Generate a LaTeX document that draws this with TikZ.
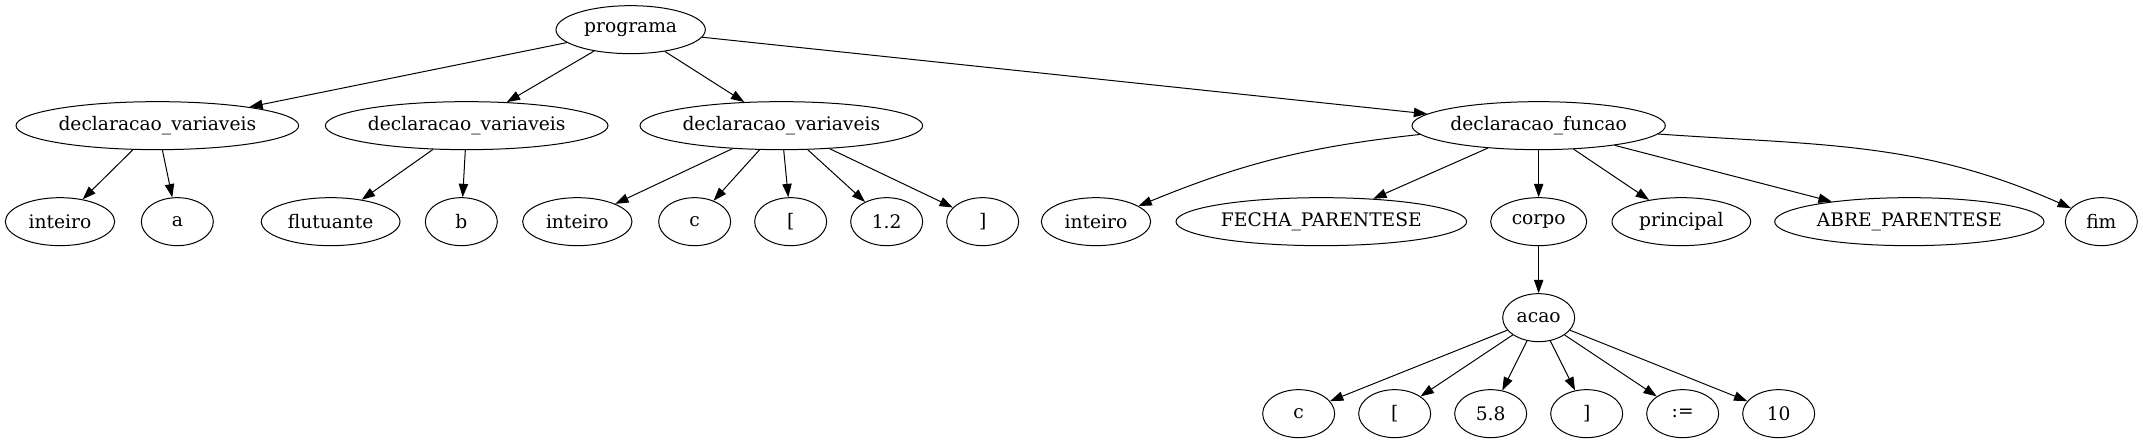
\documentclass[tikz,border=0pt]{standalone}
\usepackage{fontspec}
\setmainfont{DejaVu Serif}
\usetikzlibrary{arrows.meta,shapes.geometric}
\begin{document}
\begin{tikzpicture}[x=1pt,y=1pt,
  nd/.style={draw,ellipse,line width=0.75pt,inner sep=0pt,minimum height=36pt,font=\fontsize{14}{16}\selectfont},
  w/.style={minimum width=#1pt},
  ed/.style={line width=0.75pt,-{Triangle[length=10pt,width=7pt]}}]
\useasboundingbox (0,0) rectangle (1607.25,332.25);
% level 0
\node[nd,w=112] (prog) at (473,310) {programa};
% level 1
\node[nd,w=212] (dv1) at (118,238) {declaracao\_variaveis};
\node[nd,w=212] (dv2) at (350,238) {declaracao\_variaveis};
\node[nd,w=212] (dv3) at (586,238) {declaracao\_variaveis};
\node[nd,w=190] (df) at (1154,238) {declaracao\_funcao};
% level 2
\node[nd,w=82] (i1) at (45,166) {inteiro};
\node[nd,w=54] (a) at (133,166) {a};
\node[nd,w=104] (flu) at (248,166) {flutuante};
\node[nd,w=54] (b) at (346,166) {b};
\node[nd,w=82] (i2) at (433,166) {inteiro};
\node[nd,w=54] (c1) at (521,166) {c};
\node[nd,w=54] (lb1) at (593,166) {[};
\node[nd,w=54] (n12) at (665,166) {1.2};
\node[nd,w=54] (rb1) at (737,166) {]};
\node[nd,w=82] (i3) at (822,166) {inteiro};
\node[nd,w=218] (fp) at (991,166) {FECHA\_PARENTESE};
\node[nd,w=72] (corpo) at (1154,166) {corpo};
\node[nd,w=104] (princ) at (1261,166) {principal};
\node[nd,w=202] (ap) at (1432,166) {ABRE\_PARENTESE};
\node[nd,w=54] (fim) at (1576,166) {fim};
% level 3
\node[nd,w=54] (acao) at (1154,94) {acao};
% level 4
\node[nd,w=54] (c2) at (974,22) {c};
\node[nd,w=54] (lb2) at (1046,22) {[};
\node[nd,w=54] (n58) at (1118,22) {5.8};
\node[nd,w=54] (rb2) at (1190,22) {]};
\node[nd,w=54] (asg) at (1262,22) {:=};
\node[nd,w=54] (n10) at (1334,22) {10};
% edges
\draw[ed] (prog) -- (dv1);
\draw[ed] (prog) -- (dv2);
\draw[ed] (prog) -- (dv3);
\draw[ed] (prog) -- (df);
\draw[ed] (dv1) -- (i1);
\draw[ed] (dv1) -- (a);
\draw[ed] (dv2) -- (flu);
\draw[ed] (dv2) -- (b);
\draw[ed] (dv3) -- (i2);
\draw[ed] (dv3) -- (c1);
\draw[ed] (dv3) -- (lb1);
\draw[ed] (dv3) -- (n12);
\draw[ed] (dv3) -- (rb1);
\draw[ed] (df) to[bend right=8] (i3);
\draw[ed] (df) -- (fp);
\draw[ed] (df) -- (corpo);
\draw[ed] (df) -- (princ);
\draw[ed] (df) -- (ap);
\draw[ed] (df.-4) to[out=-4,in=156] (fim);
\draw[ed] (corpo) -- (acao);
\draw[ed] (acao) -- (c2);
\draw[ed] (acao) -- (lb2);
\draw[ed] (acao) -- (n58);
\draw[ed] (acao) -- (rb2);
\draw[ed] (acao) -- (asg);
\draw[ed] (acao) -- (n10);
\end{tikzpicture}
\end{document}
